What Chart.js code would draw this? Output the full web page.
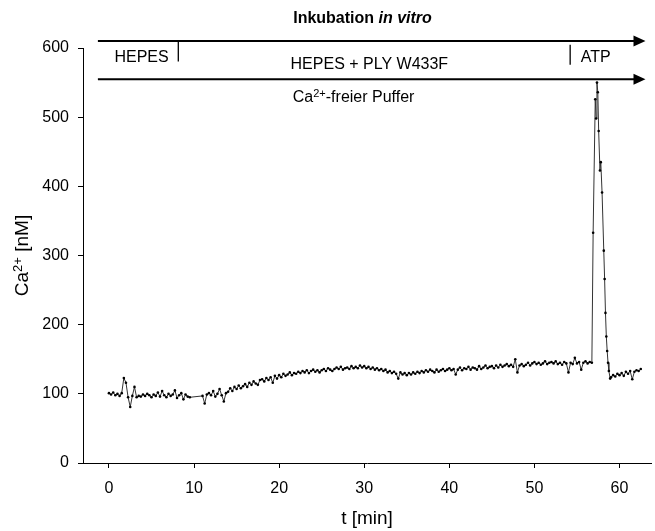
<!DOCTYPE html>
<html>
<head>
<meta charset="utf-8">
<title>Ca2+ Inkubation in vitro</title>
<script src="https://cdn.jsdelivr.net/npm/chart.js@4.4.1/dist/chart.umd.min.js"></script>
<style>
    body { margin: 0; background: #fff; }
    #wrap { width: 655px; height: 531px; position: relative; }
</style>
</head>
<body>
<div id="wrap"><canvas id="caChart"></canvas></div>
<script>
// Zeitpunkte (min) und Ca2+-Werte (nM)
const timeStart = [
    0, 0.25, 0.5, 0.75, 1, 1.25, 1.5, 1.75, 2, 2.25, 2.5, 2.75, 3, 3.25, 3.5, 3.75,
    4, 4.25, 4.5, 4.75, 5, 5.25, 5.5, 5.75, 6, 6.25, 6.5, 6.75, 7, 7.25, 7.5, 7.75,
    8, 8.25, 8.5, 8.75, 9, 9.25, 9.5
];
const caStart = [
    101, 99, 102, 98, 100, 97, 101, 123, 116, 95, 81, 97, 110, 95, 97, 96,
    99, 97, 100, 98, 95, 99, 97, 102, 96, 104, 98, 95, 100, 97, 99, 105,
    94, 98, 101, 92, 99, 96, 95
];

const timeMain = [
    11, 11.25, 11.5, 11.75, 12, 12.25, 12.5, 12.75, 13, 13.25, 13.5, 13.75,
    14, 14.25, 14.5, 14.75, 15, 15.25, 15.5, 15.75, 16, 16.25, 16.5, 16.75,
    17, 17.25, 17.5, 17.75, 18, 18.25, 18.5, 18.75, 19, 19.25, 19.5, 19.75,
    20, 20.25, 20.5, 20.75, 21, 21.25, 21.5, 21.75, 22, 22.25, 22.5, 22.75,
    23, 23.25, 23.5, 23.75, 24, 24.25, 24.5, 24.75, 25, 25.25, 25.5, 25.75,
    26, 26.25, 26.5, 26.75, 27, 27.25, 27.5, 27.75, 28, 28.25, 28.5, 28.75,
    29, 29.25, 29.5, 29.75, 30, 30.25, 30.5, 30.75, 31, 31.25, 31.5, 31.75,
    32, 32.25, 32.5, 32.75, 33, 33.25, 33.5, 33.75, 34, 34.25, 34.5, 34.75,
    35, 35.25, 35.5, 35.75, 36, 36.25, 36.5, 36.75, 37, 37.25, 37.5, 37.75,
    38, 38.25, 38.5, 38.75, 39, 39.25, 39.5, 39.75, 40, 40.25, 40.5, 40.75,
    41, 41.25, 41.5, 41.75, 42, 42.25, 42.5, 42.75, 43, 43.25, 43.5, 43.75,
    44, 44.25, 44.5, 44.75, 45, 45.25, 45.5, 45.75, 46, 46.25, 46.5, 46.75,
    47, 47.25, 47.5, 47.75, 48, 48.25, 48.5, 48.75, 49, 49.25, 49.5, 49.75,
    50, 50.25, 50.5, 50.75, 51, 51.25, 51.5, 51.75, 52, 52.25, 52.5, 52.75,
    53, 53.25, 53.5, 53.75, 54, 54.25, 54.5, 54.75, 55, 55.25, 55.5, 55.75,
    56, 56.25, 56.5, 56.75
];
const caMain = [
    97, 86, 99, 101, 98, 104, 96, 100, 107, 98, 89, 101,
    103, 108, 104, 110, 107, 112, 108, 111, 114, 110, 116, 113,
    118, 115, 113, 120, 121, 118, 123, 120, 124, 116, 126, 122,
    127, 124, 129, 126, 128, 131, 127, 130, 129, 132, 130, 133,
    131, 134, 130, 133, 135, 132, 134, 131, 134, 136, 133, 137,
    135, 133, 136, 138, 136, 139, 135, 137, 138, 136, 140, 137,
    139, 137, 141, 138, 140, 137, 139, 136, 138, 135, 137, 134,
    136, 133, 135, 131, 133, 130, 132, 129, 122, 131, 128, 130,
    127, 130, 128, 131, 129, 132, 130, 133, 131, 134, 132, 135,
    133, 131, 135, 132, 134, 136, 133, 135, 137, 134, 136, 128,
    135, 138, 134, 137, 136, 139, 135, 138, 137, 135, 140, 136,
    138, 141, 137, 139, 140, 137, 141, 138, 142, 139, 141, 143,
    140, 142, 139, 150, 131, 141, 143, 140, 142, 145, 141, 144,
    146, 143, 145, 142, 144, 147, 143, 145, 146, 144, 147, 143,
    145, 142, 146, 144, 131, 145, 143, 152, 144, 146, 135, 145,
    147, 144, 146, 145
];

// ATP-Peak
const timePeak = [56.9, 57.15, 57.25, 57.35, 57.45, 57.55, 57.7, 57.8, 57.95, 58.15, 58.25, 58.35, 58.45, 58.55, 58.65, 58.75, 58.9];
const caPeak = [333, 526, 498, 550, 536, 480, 423, 435, 391, 307, 266, 217, 183, 162, 145, 133, 122];

const timeEnd = [59, 59.25, 59.5, 59.75, 60, 60.25, 60.5, 60.75, 61, 61.25, 61.5, 61.75, 62, 62.25, 62.5];
const caEnd = [124, 127, 125, 129, 127, 130, 126, 132, 129, 133, 121, 132, 134, 133, 136];

const xTickValues = [0, 10, 20, 30, 40, 50, 60];
const yTickValues = [0, 100, 200, 300, 400, 500, 600];

const allTimes = timeStart.concat(timeMain, timePeak, timeEnd);
const allCa = caStart.concat(caMain, caPeak, caEnd);
const points = allTimes.map((t, i) => ({ x: t, y: allCa[i] }));

const FONT = "'Liberation Sans', Arial, sans-serif";

// Text mit Hochstellung zeichnen
function drawRich(ctx, parts, x, y, align) {
    let total = 0;
    parts.forEach(p => { ctx.font = p.font; total += ctx.measureText(p.text).width; });
    let cx = align === 'center' ? x - total / 2 : x;
    ctx.textBaseline = 'middle';
    ctx.textAlign = 'left';
    parts.forEach(p => {
        ctx.font = p.font;
        ctx.fillText(p.text, cx, y + (p.dy || 0));
        cx += ctx.measureText(p.text).width;
    });
}

function arrow(ctx, x1, x2, y) {
    ctx.beginPath();
    ctx.moveTo(x1, y);
    ctx.lineTo(x2 - 10, y);
    ctx.stroke();
    ctx.beginPath();
    ctx.moveTo(x2, y);
    ctx.lineTo(x2 - 12, y - 5.5);
    ctx.lineTo(x2 - 12, y + 5.5);
    ctx.closePath();
    ctx.fill();
}

const annotations = {
    id: 'annotations',
    afterDraw(chart) {
        const ctx = chart.ctx;
        const sx = chart.scales.x, sy = chart.scales.y;
        const px = v => sx.getPixelForValue(v);
        const py = v => sy.getPixelForValue(v);
        const normal = '16px ' + FONT;
        const sup = '11px ' + FONT;
        ctx.save();
        ctx.fillStyle = '#000';
        ctx.strokeStyle = '#000';
        ctx.lineWidth = 2;

        arrow(ctx, px(-1.3), px(63.05), py(610));
        arrow(ctx, px(-1.3), px(63.05), py(555));

        ctx.lineWidth = 1.3;
        ctx.beginPath();
        ctx.moveTo(px(8.15), py(610));
        ctx.lineTo(px(8.15), py(580.6));
        ctx.moveTo(px(54.2), py(604.8));
        ctx.lineTo(px(54.2), py(575.8));
        ctx.stroke();

        drawRich(ctx, [{ text: 'Inkubation ', font: 'bold 16px ' + FONT },
                       { text: 'in vitro', font: 'italic bold 16px ' + FONT }], px(29.8), 19, 'center');
        drawRich(ctx, [{ text: 'HEPES', font: normal }], px(0.64), py(585.5), 'left');
        drawRich(ctx, [{ text: 'HEPES + PLY W433F', font: normal }], px(30.6), py(576), 'center');
        drawRich(ctx, [{ text: 'ATP', font: normal }], px(55.44), py(585.5), 'left');
        drawRich(ctx, [{ text: 'Ca', font: normal }, { text: '2+', font: sup, dy: -4 },
                       { text: '-freier Puffer', font: normal }], px(28.75), py(528), 'center');

        // y-Achsentitel
        ctx.translate(23, (chart.chartArea.top + chart.chartArea.bottom) / 2);
        ctx.rotate(-Math.PI / 2);
        drawRich(ctx, [{ text: 'Ca', font: '19px ' + FONT }, { text: '2+', font: '13px ' + FONT, dy: -5 },
                       { text: ' [nM]', font: '19px ' + FONT }], 0, 0, 'center');
        ctx.restore();
    }
};

const ctx = document.getElementById('caChart').getContext('2d');
const caChart = new Chart(ctx, {
    type: 'line',
    data: {
        datasets: [{
            label: 'Ca2+',
            data: points,
            borderColor: '#333',
            borderWidth: 1,
            pointRadius: 1.3,
            pointBackgroundColor: '#000',
            pointBorderWidth: 0,
            tension: 0
        }]
    },
    options: {
        responsive: true,
        maintainAspectRatio: false,
        animation: false,
        layout: { padding: { top: 48, right: 3, left: 0, bottom: 0 } },
        plugins: {
            legend: { display: false },
            tooltip: { enabled: false }
        },
        scales: {
            x: {
                type: 'linear',
                min: -3.05,
                max: 63.7,
                afterFit: scale => { scale.height = 68; },
                afterBuildTicks: scale => { scale.ticks = xTickValues.map(v => ({ value: v })); },
                grid: { drawOnChartArea: false, drawTicks: true, tickLength: 5, color: '#000' },
                border: { display: true, color: '#000', width: 1 },
                ticks: { color: '#000', padding: 11, font: { family: FONT, size: 16 }, maxRotation: 0 },
                title: { display: true, text: 't [min]', color: '#000', font: { family: FONT, size: 19 }, padding: { top: 0, bottom: 1 } }
            },
            y: {
                min: 0,
                max: 600,
                afterFit: scale => { scale.width = 83; },
                afterBuildTicks: scale => { scale.ticks = yTickValues.map(v => ({ value: v })); },
                grid: { drawOnChartArea: false, drawTicks: true, tickLength: 5, color: '#000' },
                border: { display: true, color: '#000', width: 1 },
                ticks: { color: '#000', padding: 9, font: { family: FONT, size: 16 } }
            }
        }
    },
    plugins: [annotations]
});
</script>
</body>
</html>
